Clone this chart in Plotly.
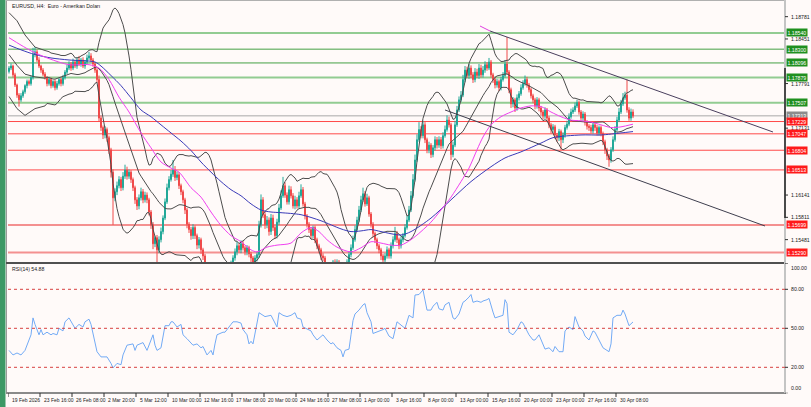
import pandas as pd
import plotly.graph_objects as go

W, H = 811, 407
FONT = "Liberation Sans, Arial, sans-serif"
FS = 5.2   # small terminal-style font size

# ---------------- data (prices in pips = price * 10000) ----------------
FIRST_OPEN = 11797
CLOSE_PIPS = [
    11802, 11805, 11792, 11777, 11762, 11755, 11761, 11767, 11776, 11782,
    11779, 11788, 11822, 11826, 11814, 11805, 11799, 11793, 11788, 11779,
    11785, 11776, 11782, 11773, 11779, 11785, 11779, 11788, 11796, 11802,
    11808, 11802, 11811, 11805, 11814, 11808, 11814, 11805, 11811, 11817,
    11820, 11814, 11808, 11799, 11785, 11728, 11714, 11703, 11711, 11699,
    11681, 11648, 11610, 11619, 11628, 11637, 11625, 11642, 11651, 11642,
    11648, 11637, 11625, 11607, 11598, 11610, 11619, 11607, 11614, 11607,
    11589, 11570, 11542, 11551, 11533, 11548, 11560, 11580, 11604, 11625,
    11637, 11645, 11651, 11640, 11644, 11628, 11619, 11607, 11592, 11571,
    11563, 11554, 11566, 11554, 11540, 11548, 11533, 11524, 11512, 11503,
    11497, 11492, 11486, 11489, 11480, 11483, 11489, 11486, 11494, 11500,
    11506, 11512, 11521, 11530, 11539, 11533, 11542, 11536, 11530, 11536,
    11527, 11521, 11515, 11521, 11526, 11570, 11607, 11585, 11570, 11577,
    11560, 11580, 11566, 11554, 11574, 11595, 11613, 11628, 11614, 11604,
    11622, 11613, 11598, 11607, 11598, 11613, 11622, 11601, 11583, 11571,
    11563, 11554, 11566, 11548, 11539, 11533, 11524, 11521, 11512, 11506,
    11500, 11509, 11515, 11509, 11515, 11506, 11500, 11503, 11509, 11515,
    11526, 11536, 11548, 11563, 11577, 11592, 11607, 11616, 11601, 11610,
    11586, 11571, 11557, 11548, 11539, 11533, 11524, 11518, 11524, 11533,
    11524, 11539, 11548, 11557, 11548, 11539, 11548, 11554, 11566, 11577,
    11592, 11613, 11637, 11666, 11696, 11711, 11702, 11718, 11696, 11681,
    11688, 11674, 11684, 11696, 11688, 11696, 11687, 11702, 11711, 11725,
    11718, 11674, 11688, 11718, 11740, 11755, 11762, 11785, 11799, 11791,
    11802, 11792, 11785, 11796, 11791, 11802, 11792, 11799, 11807, 11802,
    11811, 11792, 11785, 11777, 11782, 11773, 11785, 11791, 11808, 11796,
    11770, 11749, 11755, 11743, 11758, 11764, 11773, 11779, 11785, 11777,
    11770, 11761, 11755, 11746, 11755, 11743, 11737, 11731, 11740, 11728,
    11718, 11711, 11715, 11703, 11699, 11708, 11696, 11703, 11714, 11719,
    11730, 11737, 11740, 11746, 11751, 11737, 11728, 11734, 11722, 11716,
    11714, 11709, 11718, 11714, 11706, 11714, 11705, 11693, 11681, 11672,
    11666, 11681, 11696, 11711, 11725, 11737, 11749, 11758, 11762, 11740,
    11728, 11737, 11731,
]
UPPER_WICK = [
    3, 4, 2, 3, 2, 3, 4, 3, 2, 3,  3, 2, 10, 7, 3, 4, 2, 3, 3, 2,
    4, 3, 2, 3, 4, 2, 3, 4, 3, 5,  4, 3, 5, 3, 4, 6, 3, 4, 3, 5,
    6, 4, 3, 3, 3, 6, 4, 3, 5, 3,  3, 3, 4, 5, 6, 5, 4, 6, 8, 5,
    4, 3, 3, 3, 4, 5, 6, 4, 5, 4,  3, 3, 4, 3, 4, 5, 6, 4, 5, 6,
    5, 6, 15, 6, 5, 4, 3, 3, 3, 3,  3, 4, 5, 3, 3, 4, 3, 3, 3, 3,
    3, 3, 3, 4, 3, 4, 5, 3, 4, 5,  4, 5, 4, 5, 6, 4, 5, 4, 3, 4,
    3, 3, 3, 4, 4, 6, 8, 4, 5, 6,  4, 6, 5, 3, 5, 6, 8, 13, 5, 4,
    6, 5, 4, 6, 4, 6, 8, 4, 3, 3,  3, 4, 3, 3, 3, 3, 3, 4, 3, 3,
    3, 4, 3, 4, 4, 3, 3, 4, 4, 4,  4, 5, 6, 6, 5, 6, 6, 9, 4, 6,
    3, 3, 3, 3, 3, 3, 3, 3, 4, 5,  3, 5, 5, 10, 4, 3, 5, 4, 5, 6,
    6, 7, 8, 8, 8, 11, 5, 6, 4, 3,  5, 3, 4, 5, 4, 5, 4, 5, 6, 7,
    5, 3, 5, 6, 6, 5, 6, 7, 6, 5,  6, 4, 4, 6, 5, 6, 5, 6, 5, 4,
    6, 3, 3, 4, 4, 3, 4, 5, 6, 40,  3, 3, 4, 3, 5, 4, 5, 5, 6, 4,
    3, 3, 3, 3, 4, 3, 3, 3, 4, 3,  3, 3, 4, 3, 3, 4, 3, 4, 4, 5,
    5, 5, 4, 5, 4, 3, 3, 4, 3, 3,  3, 4, 4, 3, 4, 3, 3, 3, 3, 3,
    3, 4, 5, 5, 5, 6, 6, 7, 5, 23,  4, 5, 4,
]
LOWER_WICK = [
    3, 3, 4, 3, 4, 10, 3, 3, 3, 4,  3, 3, 3, 4, 3, 3, 4, 3, 3, 4,
    3, 4, 3, 4, 3, 3, 4, 3, 3, 3,  3, 4, 3, 3, 4, 3, 4, 3, 4, 3,
    3, 3, 4, 4, 5, 5, 5, 6, 5, 6,  6, 8, 40, 5, 5, 4, 5, 4, 4, 5,
    4, 5, 5, 6, 6, 5, 4, 5, 4, 5,  5, 6, 8, 5, 18, 5, 4, 4, 3, 3,
    4, 3, 4, 5, 4, 5, 5, 5, 6, 6,  5, 6, 5, 5, 6, 5, 6, 6, 6, 6,
    5, 6, 5, 5, 6, 5, 5, 4, 4, 5,  4, 4, 4, 4, 5, 4, 5, 4, 5, 5,
    5, 6, 6, 4, 5, 5, 4, 5, 6, 5,  6, 5, 5, 5, 4, 4, 3, 3, 4, 4,
    4, 4, 4, 5, 4, 4, 3, 4, 5, 5,  5, 5, 4, 5, 5, 5, 6, 5, 6, 6,
    6, 5, 5, 5, 6, 6, 6, 5, 5, 4,  4, 4, 3, 3, 3, 3, 3, 3, 4, 3,
    4, 5, 5, 5, 5, 5, 6, 6, 5, 4,  4, 4, 4, 3, 5, 5, 4, 4, 3, 3,
    3, 3, 3, 3, 3, 3, 4, 4, 5, 5,  5, 5, 4, 4, 5, 4, 5, 4, 3, 3,
    4, 8, 4, 3, 3, 3, 3, 3, 4, 4,  5, 5, 5, 4, 4, 5, 4, 4, 4, 4,
    3, 4, 5, 5, 4, 5, 4, 3, 3, 4,  5, 6, 5, 6, 4, 4, 3, 3, 3, 4,
    4, 4, 5, 5, 4, 5, 5, 5, 4, 5,  5, 6, 5, 6, 6, 5, 15, 5, 4, 3,
    3, 3, 3, 3, 3, 4, 4, 4, 5, 5,  5, 4, 4, 5, 4, 4, 4, 5, 6, 6,
    10, 4, 3, 3, 3, 3, 3, 3, 3, 4,  4, 4, 3,
]

# Bollinger band values read at the left edge (before a full 20-bar window exists)
BB_HEAD_BAR = [0, 4, 8, 13, 18]
BB_HEAD_UP = [11884, 11872, 11851, 11833, 11828]
BB_HEAD_MID = [11822, 11806, 11793, 11789, 11787]
BB_HEAD_LO = [11760, 11742, 11732, 11742, 11746]
BB_PERIOD = 20

PINK_BAR = [0, 6, 12, 20, 30, 40, 45, 50, 55, 60, 66, 71, 76, 81, 85, 91, 96, 101, 106, 111,
            116, 121, 124, 129, 134, 141, 146, 151, 155, 159, 164, 171, 176, 181, 186, 191, 196, 201, 206, 211,
            216, 221, 226, 230, 234, 237, 241, 246, 251, 256, 261, 266, 271, 276, 281, 286, 291, 296, 301, 306, 312]
PINK_PIPS = [11847, 11836, 11826, 11816, 11807, 11807, 11802, 11785, 11759, 11737,
             11706, 11684, 11663, 11654, 11648, 11625, 11611, 11589, 11569, 11554,
             11545, 11533, 11530, 11537, 11540, 11543, 11558, 11566, 11560, 11548,
             11537, 11530, 11536, 11545, 11543, 11540, 11540, 11548, 11560, 11574,
             11592, 11611, 11634, 11654, 11681, 11700, 11718, 11730, 11737, 11743,
             11746, 11745, 11737, 11730, 11725, 11724, 11722, 11718, 11714, 11715, 11719]

BLUE_BAR = [0, 6, 13, 21, 30, 43, 46, 51, 56, 61, 66, 71, 76, 81, 86, 91, 96, 101, 106, 111,
            116, 121, 126, 131, 136, 146, 156, 166, 171, 176, 181, 186, 196, 201, 211, 221, 231, 241, 248, 256,
            266, 272, 286, 296, 306, 312]
BLUE_PIPS = [11836, 11829, 11822, 11817, 11814, 11811, 11805, 11791, 11776, 11758,
             11740, 11730, 11718, 11706, 11694, 11680, 11663, 11648, 11634, 11622,
             11613, 11601, 11592, 11589, 11588, 11585, 11576, 11564, 11560, 11561,
             11563, 11560, 11555, 11560, 11580, 11607, 11634, 11656, 11669, 11678,
             11691, 11699, 11703, 11703, 11706, 11708]

RSI_BAR = [0, 2, 4, 6, 8, 10, 11, 12, 13, 15,
           16, 17, 19, 21, 22, 24, 25, 27, 28, 30,
           32, 33, 35, 37, 38, 40, 41, 42, 44, 46,
           49, 51, 52, 54, 56, 57, 59, 62, 63, 64,
           66, 67, 69, 71, 72, 73, 74, 76, 77, 78,
           80, 81, 82, 84, 86, 87, 89, 92, 94, 96,
           97, 99, 101, 102, 103, 104, 107, 108, 111, 112,
           114, 116, 117, 119, 120, 121, 122, 124, 125, 127,
           128, 131, 132, 134, 135, 137, 139, 141, 143, 144,
           146, 147, 151, 152, 154, 156, 157, 159, 161, 162,
           164, 166, 167, 168, 170, 171, 172, 173, 175, 177,
           178, 179, 181, 182, 184, 187, 188, 190, 192, 194,
           196, 198, 200, 202, 203, 205, 207, 208, 209, 211,
           212, 214, 215, 217, 218, 220, 221, 222, 223, 225,
           227, 228, 230, 231, 232, 234, 236, 237, 239, 240,
           242, 243, 245, 247, 248, 249, 250, 252, 254, 256,
           257, 260, 262, 263, 265, 267, 268, 270, 272, 273,
           275, 277, 278, 280, 282, 283, 285, 287, 288, 290,
           292, 293, 295, 297, 298, 300, 301, 302, 304, 306,
           307, 308, 310, 312]
RSI_VAL = [33, 29.5, 31, 29.5, 33, 41, 45, 58, 53, 45,
           49, 45, 47, 45, 46, 45, 50, 48, 55, 58,
           53, 50, 53, 51, 55, 57, 53, 45, 32, 28,
           28, 23, 19.5, 23, 22, 29.5, 37, 38, 33, 37,
           38, 39, 33, 42, 45, 37, 33, 35, 45, 52,
           52, 55, 55, 51, 53, 45, 42, 37, 38, 35,
           36, 29.5, 33, 29.5, 38, 45, 47, 47, 53, 55,
           55, 54, 49, 45, 38, 40, 38, 53, 62, 60,
           59, 60, 57, 51, 62, 60, 59, 60, 62, 58,
           57, 51, 48, 45, 41, 44, 45, 41, 38, 39,
           35, 33, 28, 33, 34, 45, 56, 61, 64, 68,
           69, 62, 55, 46, 47, 49, 50, 44, 42, 55,
           52.5, 50, 60, 58, 75.6, 76, 79.5, 73, 64, 64,
           67, 70, 65, 64, 68, 70, 64, 58, 57, 61,
           70, 71, 74, 76, 70, 71, 70, 71, 72, 73,
           62.5, 58, 59, 60, 72, 69, 47, 45, 49, 55,
           54, 45, 41, 41, 45, 37, 34, 35, 32, 36,
           32, 32, 48, 51, 49, 59, 51, 48, 44, 41,
           48, 47, 41, 35, 34, 32, 38, 58, 60, 60,
           64, 61, 52, 54.88]
RSI_LEVELS = [80, 50, 20]
RSI_AXIS = [100, 80, 50, 20, 0]

LEVEL_PRICES = [1.18540, 1.18300, 1.18096, 1.17879, 1.17507, 1.17313,
                1.17229, 1.17047, 1.16804, 1.16513, 1.15699, 1.15290]
LEVEL_KIND = ["lg", "g", "g", "lg", "lg", "bid", "r", "r", "r", "r", "lr", "lr"]
AXIS_TICKS = [1.18781, 1.18451, 1.17791, 1.17131, 1.16141, 1.15811, 1.15481]

TL_UP_BAR, TL_UP_PRICE = [240.5, 382.0], [1.18569, 1.17074]
TL_UP_PINK_BAR, TL_UP_PINK_PRICE = [235.5, 240.5], [1.18643, 1.18569]
TL_LO_BAR, TL_LO_PRICE = [218.0, 378.0], [1.17400, 1.15683]

TIME_LABELS = ["19 Feb 2026", "23 Feb 16:00", "26 Feb 08:00", "2 Mar 20:00", "5 Mar 12:00",
               "10 Mar 00:00", "12 Mar 16:00", "17 Mar 08:00", "20 Mar 00:00", "24 Mar 16:00",
               "27 Mar 08:00", "1 Apr 00:00", "3 Apr 16:00", "8 Apr 00:00", "13 Apr 00:00",
               "15 Apr 16:00", "20 Apr 00:00", "23 Apr 00:00", "27 Apr 16:00", "30 Apr 08:00"]
TIME_LABEL_BARS = [16 * k for k in range(len(TIME_LABELS))]

TITLE = "EURUSD, H4:  Euro - Amerikan Doları"
RSI_TITLE = "RSI(14) 54.88"

# ---------------- derived series ----------------
close = [p / 10000 for p in CLOSE_PIPS]
opens = [FIRST_OPEN / 10000] + close[:-1]
high = [max(o, c) + w / 10000 for o, c, w in zip(opens, close, UPPER_WICK)]
low = [min(o, c) - w / 10000 for o, c, w in zip(opens, close, LOWER_WICK)]
bars = list(range(len(close)))

cs = pd.Series(close)
bb_mid = cs.rolling(BB_PERIOD).mean()
bb_sd = cs.rolling(BB_PERIOD).std(ddof=0)
start = BB_PERIOD - 1
bb_x = BB_HEAD_BAR + bars[start:]
bb_up = [v / 10000 for v in BB_HEAD_UP] + list(bb_mid[start:] + 2 * bb_sd[start:])
bb_md = [v / 10000 for v in BB_HEAD_MID] + list(bb_mid[start:])
bb_lo = [v / 10000 for v in BB_HEAD_LO] + list(bb_mid[start:] - 2 * bb_sd[start:])

# ---------------- layout geometry ----------------
def fx(px):
    return px / W

def fy(py):
    return 1 - py / H

X_RANGE = [-0.5, 388.0]
Y_RANGE = [1.15150, 1.18998]
MAIN_DOM = [fy(262), fy(2)]
RSI_DOM = [fy(393.3), fy(263.3)]
X_DOM = [fx(8), fx(785)]

fig = go.Figure()

for s in (bb_up, bb_md, bb_lo):
    fig.add_trace(go.Scatter(x=bb_x, y=s, mode="lines", line=dict(color="#4d4d4d", width=1),
                             xaxis="x", yaxis="y", hoverinfo="skip"))
fig.add_trace(go.Scatter(x=BLUE_BAR, y=[p / 10000 for p in BLUE_PIPS], mode="lines",
                         line=dict(color="#3a3ab8", width=1, shape="spline", smoothing=0.8),
                         xaxis="x", yaxis="y", hoverinfo="skip"))
fig.add_trace(go.Scatter(x=PINK_BAR, y=[p / 10000 for p in PINK_PIPS], mode="lines",
                         line=dict(color="#f040f0", width=1, shape="spline", smoothing=0.8),
                         xaxis="x", yaxis="y", hoverinfo="skip"))

fig.add_trace(go.Candlestick(
    x=bars, open=opens, high=high, low=low, close=close, xaxis="x", yaxis="y",
    increasing=dict(line=dict(color="#22a898", width=1), fillcolor="#22a898"),
    decreasing=dict(line=dict(color="#f04a4a", width=1), fillcolor="#f04a4a"),
    whiskerwidth=0, hoverinfo="skip"))

fig.add_trace(go.Scatter(x=TL_UP_BAR, y=TL_UP_PRICE, mode="lines", line=dict(color="#4a3f5e", width=1),
                         xaxis="x", yaxis="y", hoverinfo="skip"))
fig.add_trace(go.Scatter(x=TL_UP_PINK_BAR, y=TL_UP_PINK_PRICE, mode="lines", line=dict(color="#e040e0", width=1),
                         xaxis="x", yaxis="y", hoverinfo="skip"))
fig.add_trace(go.Scatter(x=TL_LO_BAR, y=TL_LO_PRICE, mode="lines", line=dict(color="#3f3f4f", width=1),
                         xaxis="x", yaxis="y", hoverinfo="skip"))

fig.add_trace(go.Scatter(x=RSI_BAR, y=RSI_VAL, mode="lines", line=dict(color="#72aaf5", width=1),
                         xaxis="x2", yaxis="y2", hoverinfo="skip"))

shapes = []
annotations = []

LEVEL_STYLE = {
    "lg": ("#92cc92", 2, "#1f8f1f"),
    "g": ("#45a045", 1, "#1f8f1f"),
    "bid": ("#a8a8a8", 1, "#8c8c8c"),
    "r": ("#ff4a4a", 1, "#ff1a1a"),
    "lr": ("#f49090", 2, "#ff1a1a"),
}

shapes.append(dict(type="rect", xref="paper", yref="paper", x0=0, x1=fx(5.5), y0=0, y1=1,
                   fillcolor="#3c9865", line=dict(width=0), layer="above"))
shapes.append(dict(type="line", xref="paper", yref="paper", x0=fx(6.5), x1=fx(6.5), y0=fy(393), y1=1,
                   line=dict(color="#9a9a9a", width=1)))
shapes.append(dict(type="line", xref="paper", yref="paper", x0=fx(6), x1=fx(785), y0=fy(0.5), y1=fy(0.5),
                   line=dict(color="#b0b0b0", width=1)))

for p, k in zip(LEVEL_PRICES, LEVEL_KIND):
    col, wid, _ = LEVEL_STYLE[k]
    shapes.append(dict(type="line", xref="paper", yref="y", x0=X_DOM[0], x1=X_DOM[1], y0=p, y1=p,
                       line=dict(color=col, width=wid), layer="below"))

shapes.append(dict(type="line", xref="paper", yref="paper", x0=fx(6), x1=fx(786), y0=fy(263), y1=fy(263),
                   line=dict(color="#505050", width=2)))
shapes.append(dict(type="line", xref="paper", yref="paper", x0=fx(6), x1=fx(786), y0=fy(393), y1=fy(393),
                   line=dict(color="#8a8a8a", width=2)))
shapes.append(dict(type="line", xref="paper", yref="paper", x0=fx(785), x1=fx(785), y0=fy(393), y1=1,
                   line=dict(color="#c4c4c4", width=2)))
shapes.append(dict(type="line", xref="paper", yref="paper", x0=fx(785), x1=fx(785), y0=fy(218), y1=fy(68),
                   line=dict(color="#4a4a4a", width=2)))

for lv in RSI_LEVELS:
    shapes.append(dict(type="line", xref="paper", yref="y2", x0=X_DOM[0], x1=X_DOM[1], y0=lv, y1=lv,
                       line=dict(color="#d84040", width=1, dash="dot")))

for p in AXIS_TICKS:
    shapes.append(dict(type="line", xref="paper", yref="y", x0=fx(785), x1=fx(788), y0=p, y1=p,
                       line=dict(color="#303030", width=1)))
    annotations.append(dict(x=fx(788.5), xref="paper", y=p, yref="y", text=f"{p:.5f}", showarrow=False,
                            xanchor="left", yanchor="middle", font=dict(family=FONT, size=FS, color="#222222")))
for p, k in zip(LEVEL_PRICES, LEVEL_KIND):
    bg = LEVEL_STYLE[k][2]
    annotations.append(dict(x=fx(786), xref="paper", y=p, yref="y", text=f"{p:.5f}", showarrow=False,
                            xanchor="left", yanchor="middle", bgcolor=bg, borderpad=0.5,
                            font=dict(family=FONT, size=FS, color="#ffffff")))

for lv in RSI_AXIS:
    ya = "top" if lv == 100 else ("bottom" if lv == 0 else "middle")
    shapes.append(dict(type="line", xref="paper", yref="y2", x0=fx(785), x1=fx(788), y0=lv, y1=lv,
                       line=dict(color="#303030", width=1)))
    annotations.append(dict(x=fx(788.5), xref="paper", y=lv, yref="y2", text=f"{lv:.2f}", showarrow=False,
                            xanchor="left", yanchor=ya, font=dict(family=FONT, size=FS, color="#222222")))

for b, t in zip(TIME_LABEL_BARS, TIME_LABELS):
    shapes.append(dict(type="line", xref="x2", yref="paper", x0=b - 0.5, x1=b - 0.5, y0=fy(393), y1=fy(397),
                       line=dict(color="#303030", width=1)))
    annotations.append(dict(x=b + 0.5, xref="x2", y=fy(399.5), yref="paper", text=t, showarrow=False,
                            xanchor="left", yanchor="middle", font=dict(family=FONT, size=5.0, color="#222222")))

annotations.append(dict(x=fx(10), xref="paper", y=fy(6), yref="paper", text=TITLE, showarrow=False,
                        xanchor="left", yanchor="middle", font=dict(family=FONT, size=FS, color="#202020")))
annotations.append(dict(x=fx(10), xref="paper", y=fy(269), yref="paper", text=RSI_TITLE, showarrow=False,
                        xanchor="left", yanchor="middle", font=dict(family=FONT, size=FS, color="#202020")))

axis_common = dict(showgrid=False, zeroline=False, showticklabels=False, showline=False, ticks="")
fig.update_layout(
    width=W, height=H, autosize=False, margin=dict(l=0, r=0, t=0, b=0),
    paper_bgcolor="#fffaf9", plot_bgcolor="#fffaf9", showlegend=False,
    xaxis=dict(domain=X_DOM, range=X_RANGE, anchor="y", rangeslider=dict(visible=False), **axis_common),
    yaxis=dict(domain=MAIN_DOM, range=Y_RANGE, anchor="x", **axis_common),
    xaxis2=dict(domain=X_DOM, range=X_RANGE, anchor="y2", **axis_common),
    yaxis2=dict(domain=RSI_DOM, range=[0, 100], anchor="x2", **axis_common),
    shapes=shapes, annotations=annotations, hovermode=False,
)

fig.write_html("out.html", config={"displayModeBar": False})
